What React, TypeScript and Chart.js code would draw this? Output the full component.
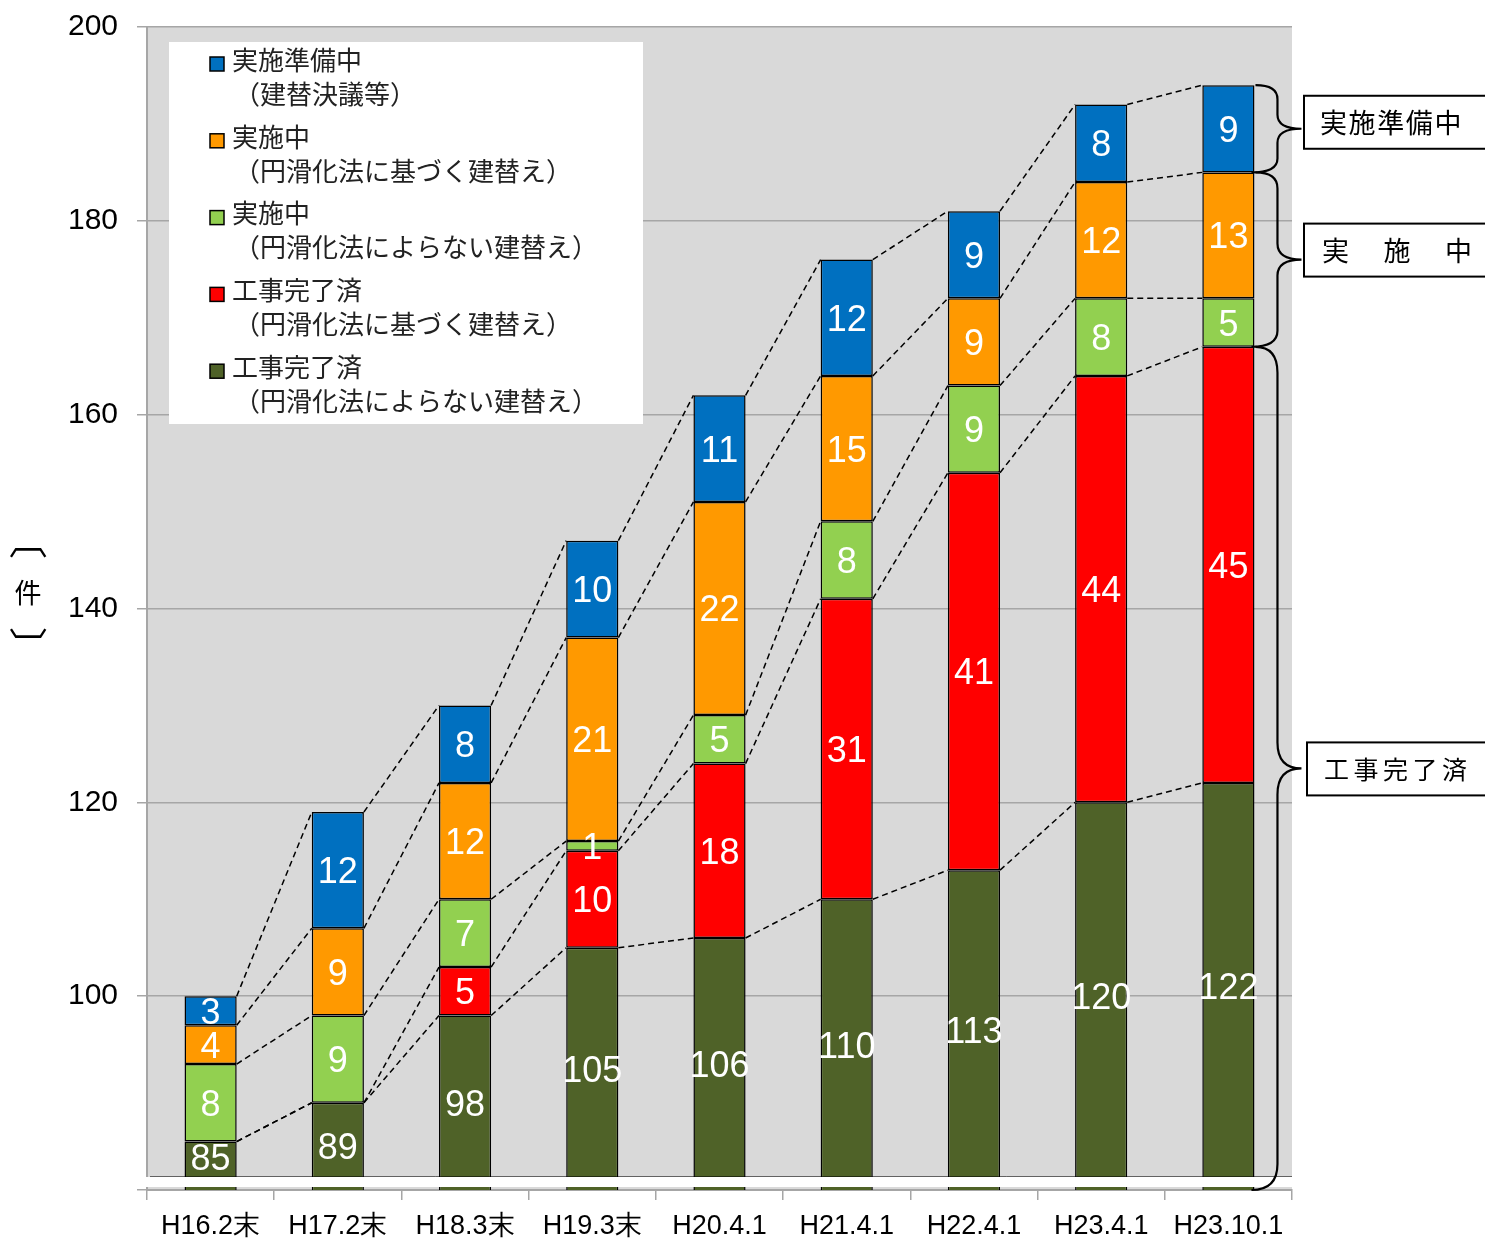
import React, { useEffect, useRef } from "react";
import { Chart, registerables } from "chart.js";

Chart.register(...registerables);

const categories = ["H16.2末", "H17.2末", "H18.3末", "H19.3末", "H20.4.1", "H21.4.1", "H22.4.1", "H23.4.1", "H23.10.1"];
const doneOther = [85, 89, 98, 105, 106, 110, 113, 120, 122];
const doneSmooth = [0, 0, 5, 10, 18, 31, 41, 44, 45];
const ongoingOther = [8, 9, 7, 1, 5, 8, 9, 8, 5];
const ongoingSmooth = [4, 9, 12, 21, 22, 15, 9, 12, 13];
const preparing = [3, 12, 8, 10, 11, 12, 9, 8, 9];

const seriesLabels = [
  ["工事完了済", "（円滑化法によらない建替え）"],
  ["工事完了済", "（円滑化法に基づく建替え）"],
  ["実施中", "（円滑化法によらない建替え）"],
  ["実施中", "（円滑化法に基づく建替え）"],
  ["実施準備中", "（建替決議等）"],
];
const seriesColors = ["#4F6228", "#FF0000", "#92D050", "#FF9900", "#0070C0"];

const yMin = 80;
const yMax = 200;
const yStep = 20;

const groupLabels = ["実施準備中", "実　施　中", "工事完了済"];
const yTitle = ["〔", "件", "〕"];

const JP = '"Noto Sans CJK JP", sans-serif';
const AR = '"Liberation Sans", Arial, sans-serif';

const customPlugin = {
  id: "custom",
  beforeDraw(chart: any) {
    const { ctx, chartArea: a } = chart;
    ctx.save();
    ctx.fillStyle = "#ffffff";
    ctx.fillRect(0, 0, chart.width, chart.height);
    ctx.fillStyle = "#d9d9d9";
    ctx.fillRect(a.left, a.top, a.right - a.left, a.bottom - a.top);
    ctx.restore();
  },
  afterDatasetsDraw(chart: any) {
    const { ctx, chartArea: a } = chart;
    const n = chart.data.labels.length;
    ctx.save();
    // series lines
    ctx.strokeStyle = "#000";
    ctx.lineWidth = 1.5;
    ctx.setLineDash([6, 4]);
    chart.data.datasets.forEach((ds: any, d: number) => {
      const meta = chart.getDatasetMeta(d);
      for (let i = 0; i < n - 1; i++) {
        const e1: any = meta.data[i];
        const e2: any = meta.data[i + 1];
        ctx.beginPath();
        ctx.moveTo(e1.x + e1.width / 2, e1.y);
        ctx.lineTo(e2.x - e2.width / 2, e2.y);
        ctx.stroke();
      }
    });
    ctx.setLineDash([]);
    // value labels
    ctx.fillStyle = "#fff";
    ctx.font = `36px ${AR}`;
    ctx.textAlign = "center";
    ctx.textBaseline = "middle";
    chart.data.datasets.forEach((ds: any, d: number) => {
      const meta = chart.getDatasetMeta(d);
      ds.data.forEach((v: number, i: number) => {
        if (!v) return;
        const e: any = meta.data[i];
        const top = e.y;
        const bot = Math.min(e.base, a.bottom);
        const cy = Math.min((top + bot) / 2 + 3, a.bottom - 30);
        ctx.fillText(String(v), e.x, cy);
      });
    });
    ctx.restore();
  },
  afterDraw(chart: any) {
    const { ctx, chartArea: a } = chart;
    const ys = chart.scales.y;
    const n = chart.data.labels.length;
    ctx.save();

    // axis break band
    ctx.fillStyle = "#ffffff";
    ctx.fillRect(135, a.bottom - 13, a.right + 20 - 135, 10);
    ctx.strokeStyle = "rgba(0,0,0,0.55)";
    ctx.lineWidth = 1;
    ctx.beginPath();
    ctx.moveTo(150, a.bottom - 13.5);
    ctx.lineTo(a.right, a.bottom - 13.5);
    ctx.stroke();

    // braces on the right
    const last = n - 1;
    const tot = (k: number) => {
      let s = 0;
      for (let d = 0; d <= k; d++) s += chart.data.datasets[d].data[last];
      return s;
    };
    const meta = chart.getDatasetMeta(0);
    const lastEl: any = meta.data[last];
    const x0 = lastEl.x + lastEl.width / 2 + 1;
    const x1 = x0 + 22;
    const tipX = x0 + 46;
    const brace = (yTop: number, yBot: number, r: number, rBot: number) => {
      const mid = (yTop + yBot) / 2;
      ctx.beginPath();
      ctx.moveTo(x0, yTop);
      ctx.quadraticCurveTo(x1, yTop, x1, yTop + r);
      ctx.lineTo(x1, mid - r);
      ctx.quadraticCurveTo(x1, mid, tipX, mid);
      ctx.moveTo(tipX, mid);
      ctx.quadraticCurveTo(x1, mid, x1, mid + r);
      ctx.lineTo(x1, yBot - rBot);
      ctx.quadraticCurveTo(x1, yBot, x0 - 4, yBot);
      ctx.stroke();
      return mid;
    };
    ctx.strokeStyle = "#000";
    ctx.lineWidth = 2.2;
    const b1 = brace(ys.getPixelForValue(tot(4)), ys.getPixelForValue(tot(3)), 14, 14);
    const b2 = brace(ys.getPixelForValue(tot(3)), ys.getPixelForValue(tot(1)), 16, 16);
    const b3 = brace(ys.getPixelForValue(tot(1)), a.bottom, 26, 26);

    // boxes
    const boxes = [
      { y: b1 - 33, x: 1304, pitch: 28.6, size: 27, x0: 1320 },
      { y: b2 - 36, x: 1304, pitch: 61.5, size: 27, x0: 1322 },
      { y: b3 - 26, x: 1307, pitch: 29.5, size: 25, x0: 1324 },
    ];
    boxes.forEach((b, k) => {
      ctx.fillStyle = "#fff";
      ctx.fillRect(b.x, b.y, 200, 53);
      ctx.strokeStyle = "#000";
      ctx.lineWidth = 2;
      ctx.strokeRect(b.x, b.y, 200, 53);
      ctx.fillStyle = "#000";
      ctx.font = `${b.size}px ${JP}`;
      ctx.textAlign = "left";
      ctx.textBaseline = "middle";
      const chars = groupLabels[k].replace(/　/g, "").split("");
      chars.forEach((c, j) => ctx.fillText(c, b.x0 + j * b.pitch, b.y + 27));
    });

    // legend
    ctx.fillStyle = "#fff";
    ctx.fillRect(169, 42, 474, 382);
    const order = [4, 3, 2, 1, 0];
    order.forEach((d, k) => {
      const y1 = 60 + k * 76.8;
      ctx.fillStyle = seriesColors[d];
      ctx.fillRect(210, y1 - 3, 14, 14);
      ctx.strokeStyle = "#000";
      ctx.lineWidth = 1.5;
      ctx.strokeRect(210, y1 - 3, 14, 14);
      ctx.fillStyle = "#222";
      ctx.font = `26px ${JP}`;
      ctx.textAlign = "left";
      ctx.textBaseline = "middle";
      ctx.fillText(seriesLabels[d][0], 232, y1);
      ctx.fillText(seriesLabels[d][1], 234, y1 + 34);
    });

    // y title (brackets rotated for vertical writing)
    ctx.fillStyle = "#000";
    ctx.font = `27px ${JP}`;
    ctx.textAlign = "center";
    ctx.textBaseline = "middle";
    ctx.fillText(yTitle[1], 28, 593);
    ctx.font = `38px ${JP}`;
    ctx.save();
    ctx.translate(28, 540);
    ctx.rotate(Math.PI / 2);
    ctx.fillText(yTitle[0], 0, 0);
    ctx.restore();
    ctx.save();
    ctx.translate(28, 646);
    ctx.rotate(Math.PI / 2);
    ctx.fillText(yTitle[2], 0, 0);
    ctx.restore();

    ctx.restore();
  },
};

export default function App() {
  const ref = useRef<HTMLCanvasElement | null>(null);
  useEffect(() => {
    document.body.style.margin = "0";
    const canvas = ref.current;
    if (!canvas) return;
    const datasets = [doneOther, doneSmooth, ongoingOther, ongoingSmooth, preparing].map((data, d) => ({
      label: seriesLabels[d].join(""),
      data,
      backgroundColor: seriesColors[d],
      borderColor: "#000",
      borderWidth: 1.5,
      borderSkipped: false as any,
      barPercentage: 0.41,
      categoryPercentage: 1,
    }));
    const chart = new Chart(canvas, {
      type: "bar",
      data: { labels: categories, datasets },
      options: {
        responsive: false,
        animation: false,
        layout: { padding: { left: 0, right: 193, top: 27, bottom: 0 } },
        plugins: { legend: { display: false }, tooltip: { enabled: false } },
        scales: {
          x: {
            stacked: true,
            offset: true,
            grid: { offset: true, drawOnChartArea: false, tickLength: 10, color: "#a6a6a6", lineWidth: 1.5 },
            border: { color: "#a6a6a6", width: 2 },
            ticks: { color: "#000", font: { family: AR, size: 27 }, padding: 10, maxRotation: 0, autoSkip: false },
            afterFit: (s: any) => { s.height = 49; s.paddingLeft = 0; s.paddingRight = 0; },
          },
          y: {
            stacked: true,
            min: yMin,
            max: yMax,
            ticks: {
              stepSize: yStep,
              color: "#000",
              font: { family: AR, size: 30 },
              padding: 19,
              callback: (v: any) => (v === yMin ? "" : String(v)),
            },
            grid: { color: "#a6a6a6", lineWidth: 1.5, tickLength: 10 },
            border: { color: "#a6a6a6", width: 2 },
            afterFit: (s: any) => { s.width = 147; s.paddingTop = 0; s.paddingBottom = 0; },
          },
        },
      },
      plugins: [customPlugin],
    });
    return () => chart.destroy();
  }, []);
  return <canvas ref={ref} width={1485} height={1239} style={{ display: "block", width: 1485, height: 1239 }} />;
}
